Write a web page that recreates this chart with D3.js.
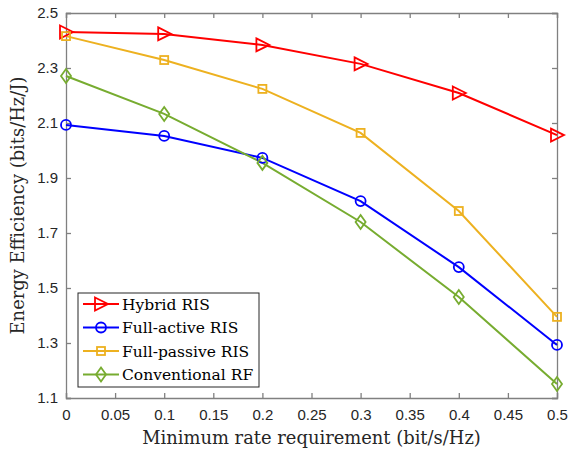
<!DOCTYPE html>
<html>
<head>
<meta charset="utf-8">
<script src="https://cdn.jsdelivr.net/npm/d3@7"></script>
<style>
body { margin: 0; background: #fff; }
</style>
</head>
<body>
<div id="chart"></div>
<script>
// data
let rates = [0, 0.1, 0.2, 0.3, 0.4, 0.5];
let hybrid = [2.431, 2.424, 2.384, 2.315, 2.209, 2.056];
let fullActive = [2.093, 2.053, 1.973, 1.816, 1.576, 1.293];
let fullPassive = [2.416, 2.329, 2.224, 2.064, 1.780, 1.395];
let conventional = [2.271, 2.133, 1.955, 1.740, 1.467, 1.151];
let seriesNames = ["Hybrid RIS", "Full-active RIS", "Full-passive RIS", "Conventional RF"];
let xTicks = [0, 0.05, 0.1, 0.15, 0.2, 0.25, 0.3, 0.35, 0.4, 0.45, 0.5];
let yTicks = [1.1, 1.3, 1.5, 1.7, 1.9, 2.1, 2.3, 2.5];

let series = [
    {name: seriesNames[0], values: hybrid, color: "#ff0000", marker: "triangle"},
    {name: seriesNames[1], values: fullActive, color: "#0000ff", marker: "circle"},
    {name: seriesNames[2], values: fullPassive, color: "#edb120", marker: "square"},
    {name: seriesNames[3], values: conventional, color: "#77ac30", marker: "diamond"}
];

let W = 573, H = 449;
let margin = {top: 13, right: 16, bottom: 51, left: 66};
let width = W - margin.left - margin.right;
let height = H - margin.top - margin.bottom;

let svg = d3.select("#chart").append("svg")
    .attr("width", W)
    .attr("height", H);

let g = svg.append("g")
    .attr("transform", "translate(" + margin.left + "," + margin.top + ")");

let x = d3.scaleLinear().domain([0, 0.5]).range([0, width]);
let y = d3.scaleLinear().domain([1.1, 2.5]).range([height, 0]);

let axisColor = "#262626";
let tickFont = "'Liberation Sans', Arial, sans-serif";
let serif = "'DejaVu Serif', serif";

// axes with inward ticks, box on
let xAxis = d3.axisBottom(x).tickValues(xTicks).tickSize(-5).tickPadding(11)
    .tickFormat(d => d3.format("")(+d.toFixed(2)));
let yAxis = d3.axisLeft(y).tickValues(yTicks).tickSize(-5).tickPadding(8)
    .tickFormat(d3.format(".1f"));

g.append("g").attr("class", "axis").attr("transform", "translate(0," + height + ")").call(xAxis);
g.append("g").attr("class", "axis").call(yAxis);
g.append("g").attr("class", "axis nolabel").call(d3.axisTop(x).tickValues(xTicks).tickSize(-5).tickFormat(""));
g.append("g").attr("class", "axis nolabel").attr("transform", "translate(" + width + ",0)")
    .call(d3.axisRight(y).tickValues(yTicks).tickSize(-5).tickFormat(""));

g.selectAll(".axis path").attr("stroke", "#808080").attr("stroke-width", 1.3);
g.selectAll(".axis line").attr("stroke", "#808080").attr("stroke-width", 1.3);
g.selectAll(".axis text").attr("fill", axisColor).style("font-family", tickFont).style("font-size", "15px");

// lines
let line = d3.line()
    .x((d, i) => x(rates[i]))
    .y(d => y(d));

series.forEach(function (s) {
    g.append("path")
        .datum(s.values)
        .attr("fill", "none")
        .attr("stroke", s.color)
        .attr("stroke-width", 2)
        .attr("d", line);
});

function drawMarker(sel, type, color) {
    sel.attr("fill", "none").attr("stroke", color).attr("stroke-width", 1.8);
    if (type === "triangle") {
        sel.append("path").attr("d", "M-6,-6.5 L7,0 L-6,6.5 Z");
    } else if (type === "circle") {
        sel.append("circle").attr("r", 5);
    } else if (type === "square") {
        sel.append("rect").attr("x", -4).attr("y", -4).attr("width", 8).attr("height", 8);
    } else {
        sel.append("path").attr("d", "M0,-7 L5,0 L0,7 L-5,0 Z");
    }
}

series.forEach(function (s) {
    g.selectAll(null)
        .data(s.values)
        .enter().append("g")
        .attr("transform", (d, i) => "translate(" + x(rates[i]) + "," + y(d) + ")")
        .each(function () { drawMarker(d3.select(this), s.marker, s.color); });
});

// legend
let legend = g.append("g").attr("transform", "translate(12,280)");
legend.append("rect")
    .attr("width", 181).attr("height", 94)
    .attr("fill", "#fff").attr("stroke", "#262626").attr("stroke-width", 1);

series.forEach(function (s, i) {
    let row = legend.append("g").attr("transform", "translate(0," + (11 + i * 23.5) + ")");
    row.append("line").attr("x1", 5).attr("x2", 41).attr("y1", 0).attr("y2", 0)
        .attr("stroke", s.color).attr("stroke-width", 2);
    row.append("g").attr("transform", "translate(23,0)")
        .each(function () { drawMarker(d3.select(this), s.marker, s.color); });
    row.append("text").attr("x", 44).attr("y", 5.5)
        .style("font-family", serif).style("font-size", "15.5px").attr("fill", "#000")
        .text(s.name);
});

// axis titles
svg.append("text")
    .attr("x", margin.left + width / 2).attr("y", 444)
    .attr("text-anchor", "middle")
    .style("font-family", serif).style("font-size", "17.9px").attr("fill", axisColor)
    .text("Minimum rate requirement (bit/s/Hz)");

svg.append("text")
    .attr("transform", "translate(24," + (margin.top + height / 2) + ") rotate(-90)")
    .attr("text-anchor", "middle")
    .style("font-family", serif).style("font-size", "17.9px").attr("fill", axisColor)
    .text("Energy Efficiency (bits/Hz/J)");
</script>
</body>
</html>
